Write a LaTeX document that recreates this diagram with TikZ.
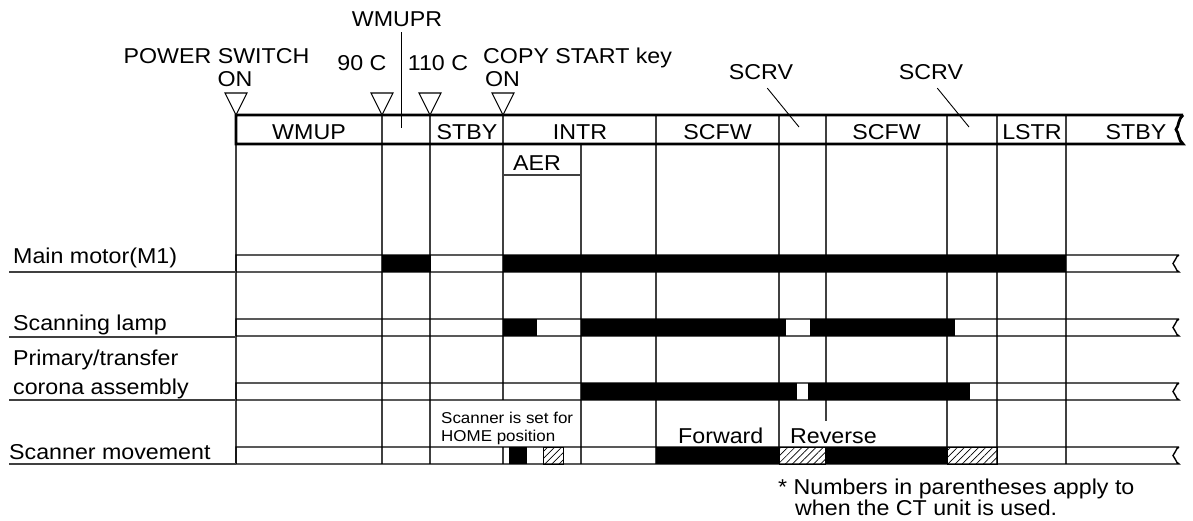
\documentclass[tikz,border=0pt]{standalone}
\usepackage{fontspec}
\setmainfont{Liberation Sans}[FakeStretch=1.08]
\usetikzlibrary{patterns.meta}

\begin{document}
\begin{tikzpicture}[x=1pt,y=-1pt,
  txt/.style={inner sep=0pt, anchor=base, font=\fontsize{21.5}{24}\selectfont},
  ltxt/.style={txt, anchor=base west},
  small/.style={inner sep=0pt, anchor=base west, font=\fontsize{15.7}{18}\selectfont},
  gridline/.style={line width=1.2pt, black!75},
  hdr/.style={line width=2.8pt, line join=miter},
  barline/.style={line width=1.4pt, line join=miter},
  pointer/.style={line width=0.9pt},
  marker/.style={line width=1.1pt, line join=miter},
  on/.style={fill=black},
  hatch/.style={pattern={Lines[angle=45,distance=5pt,line width=0.7pt]}, draw=black, line width=0.8pt}]

\useasboundingbox (0,0) rectangle (1193,521);

% ---------- vertical time divisions ----------
\foreach \x/\a/\b in {236/144/464, 382/115/464, 430/115/464, 503/115/400, 503/447/464,
                      581/144/464, 656/115/464, 779/115/464, 826/115/421, 826/447/464,
                      947/115/464, 997/115/464, 1066/115/464}
  \draw[gridline] (\x,\a) -- (\x,\b);

% ---------- AER sub-period ----------
\draw[gridline] (503,175) -- (581,175);
\node[txt] (aer) at (537,171) {AER};

% ---------- state header ----------
\draw[hdr] (1183,115) -- (236,115) -- (236,144) -- (1183,144)
  .. controls (1178,140) and (1179,133) .. (1176,129.5)
  .. controls (1179,126) and (1178,119) .. (1183,115);
\node[txt] (s1) at (309,140)  {WMUP};
\node[txt] (s2) at (467,140)  {STBY};
\node[txt] (s3) at (580,140)  {INTR};
\node[txt] (s4) at (717.5,140) {SCFW};
\node[txt] (s5) at (886.5,140) {SCFW};
\node[txt] (s6) at (1032,140) {LSTR};
\node[txt] (s7) at (1136,140) {STBY};

% ---------- event markers ----------
\foreach \x in {236,382,430,503}
  \draw[marker, fill=white] (\x-11,93) -- (\x,115) -- (\x+11,93) -- cycle;

\node[txt] (pwr)    at (216.5,64) {POWER SWITCH};
\node[txt] (pwron)  at (235,87)   {ON};
\node[txt] (t90)    at (362,71)   {90 C};
\node[txt] (t110)   at (438,71)   {110 C};
\node[ltxt] (copy)  at (483,64)   {COPY START key};
\node[txt] (copyon) at (502.5,87) {ON};

% ---------- period call-outs ----------
\node[txt] (wmupr) at (397,27) {WMUPR};
\coordinate (wmuprEnd) at (401.5,128);
\draw[pointer] (wmupr.south -| wmuprEnd) ++(0,5) -- (wmuprEnd);

\node[txt] (scrv1) at (761,80) {SCRV};
\node[txt] (scrv2) at (931,80) {SCRV};
\coordinate (scrv1End) at (799,127);
\coordinate (scrv2End) at (969,127);
\draw[pointer, shorten <=10pt] (scrv1.south) -- (scrv1End);
\draw[pointer, shorten <=10pt] (scrv2.south) -- (scrv2End);

% ---------- signal rows: on-periods ----------
% main motor
\fill[on] (382,255) rectangle (431,272);
\fill[on] (503,255) rectangle (1066,272);
% scanning lamp
\fill[on] (503,319) rectangle (537,336);
\fill[on] (581,319) rectangle (786,336);
\fill[on] (810,319) rectangle (955,336);
% primary/transfer corona
\fill[on] (581,383) rectangle (797,400);
\fill[on] (808,383) rectangle (970,400);
% scanner movement
\fill[on] (509,447) rectangle (527,464);
\fill[on] (656,447) rectangle (779,464);
\fill[on] (825,447) rectangle (947,464);
\path[hatch] (543,447) rectangle (563,464);
\path[hatch] (779,447) rectangle (825,464);
\path[hatch] (947,447) rectangle (997,464);

% ---------- signal rows: outlines ----------
\foreach \t in {255,319,383,447}
  \draw[barline] (1179,\t) -- (236,\t) -- (236,\t+17) -- (1179,\t+17)
    .. controls (1175,\t+15) and (1176,\t+11) .. (1173,\t+8.5)
    .. controls (1176,\t+6) and (1175,\t+2) .. (1179,\t);

% ---------- row labels ----------
\foreach \y in {272,337,400,464}
  \draw[gridline] (9,\y) -- (236,\y);
\node[ltxt] (lmotor) at (13,264)  {Main motor(M1)};
\node[ltxt] (llamp)  at (13,330)  {Scanning lamp};
\node[ltxt] (lcor1)  at (13,365)  {Primary/transfer};
\node[ltxt] (lcor2)  at (13,394)  {corona assembly};
\node[ltxt] (lscan)  at (9,459)   {Scanner movement};

% ---------- scanner notes ----------
\node[small] (home1) at (441,423) {Scanner is set for};
\node[small] (home2) at (441,441) {HOME position};
\node[ltxt] (fwd) at (678,443) {Forward};
\node[ltxt] (rev) at (790,443) {Reverse};

% ---------- footnote ----------
\node[ltxt] (fn1) at (778,494) {* Numbers in parentheses apply to};
\node[ltxt] (fn2) at (795,515) {when the CT unit is used.};

\end{tikzpicture}
\end{document}
